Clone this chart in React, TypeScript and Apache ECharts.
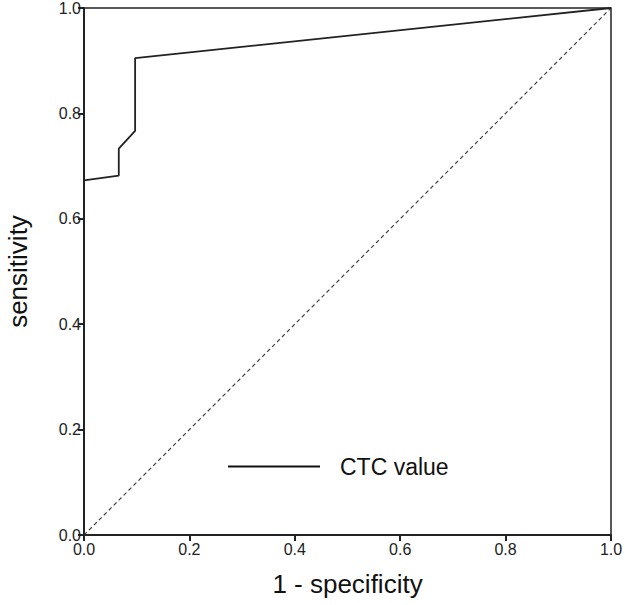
import React, { useEffect, useRef } from "react";
import * as echarts from "echarts";

const fpr = [0, 0, 0.066, 0.066, 0.097, 0.097, 1.0];
const tpr = [0, 0.673, 0.682, 0.733, 0.767, 0.905, 1.0];
const refX = [0, 1];
const refY = [0, 1];
const seriesName = "CTC value";

export default function App() {
  const ref = useRef<HTMLDivElement>(null);
  useEffect(() => {
    if (!ref.current) return;
    const chart = echarts.init(ref.current, undefined, { renderer: "svg" });
    const font = "Liberation Sans, Arial, sans-serif";
    chart.setOption({
      animation: false,
      backgroundColor: "#fff",
      grid: {
        left: 84,
        top: 8,
        right: 14,
        bottom: 70,
        containLabel: false,
        outerBoundsMode: "none",
        show: true,
        borderColor: "#222",
        borderWidth: 1.5,
        backgroundColor: "transparent",
      },
      legend: {
        left: 223,
        top: 450,
        data: [{ name: seriesName, icon: "rect" }],
        itemWidth: 92,
        itemHeight: 2,
        itemGap: 10,
        textStyle: { fontFamily: font, fontSize: 23, color: "#111", padding: [0, 0, 0, 15] },
        itemStyle: { color: "#111" },
      },
      xAxis: {
        type: "value",
        min: 0,
        max: 1,
        interval: 0.2,
        name: "1 - specificity",
        nameLocation: "middle",
        nameGap: 36,
        nameTextStyle: { fontFamily: font, fontSize: 26, color: "#111" },
        axisLine: { show: true, lineStyle: { color: "#222", width: 2 } },
        axisTick: { show: true, length: 6, inside: false, lineStyle: { color: "#222", width: 2 } },
        axisLabel: {
          fontFamily: font,
          fontSize: 16,
          color: "#222",
          margin: 6,
          formatter: (v: number) => v.toFixed(1),
        },
        splitLine: { show: false },
      },
      yAxis: {
        type: "value",
        min: 0,
        max: 1,
        interval: 0.2,
        name: "sensitivity",
        nameLocation: "middle",
        nameGap: 53,
        nameTextStyle: { fontFamily: font, fontSize: 26, color: "#111" },
        axisLine: { show: true, lineStyle: { color: "#222", width: 2 } },
        axisTick: { show: true, length: 6, inside: false, lineStyle: { color: "#222", width: 2 } },
        axisLabel: {
          fontFamily: font,
          fontSize: 16,
          color: "#222",
          margin: 3,
          formatter: (v: number) => v.toFixed(1),
        },
        splitLine: { show: false },
      },
      series: [
        {
          name: "reference",
          type: "line",
          data: refX.map((x, i) => [x, refY[i]]),
          symbol: "none",
          lineStyle: { color: "#444", width: 1.2, type: [4, 3] },
          silent: true,
        },
        {
          name: seriesName,
          type: "line",
          data: fpr.map((x, i) => [x, tpr[i]]),
          symbol: "none",
          lineStyle: { color: "#222", width: 1.8 },
          itemStyle: { color: "#222" },
        },
      ],
    });
    return () => chart.dispose();
  }, []);
  return (
    <div
      ref={ref}
      style={{ position: "absolute", left: 0, top: 0, width: 625, height: 605 }}
    />
  );
}
